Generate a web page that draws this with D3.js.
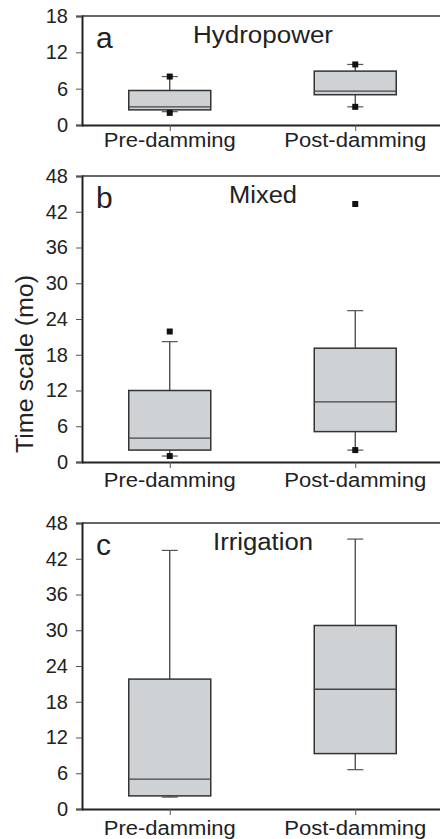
<!DOCTYPE html>
<html lang="en">
<head>
<meta charset="UTF-8">
<title>Time scale pre/post damming</title>
<script src="https://d3js.org/d3.v7.min.js"></script>
<style>
  body { margin: 0; background: #fff; }
  svg text { font-family: "Liberation Sans", Arial, Helvetica, sans-serif; fill: #222; }
</style>
</head>
<body>
<svg id="chart" width="440" height="839"></svg>
<script>
// categories + panels
const categories = ["Pre-damming", "Post-damming"];
const panelLetters = ["a", "b", "c"];
const panelTitles = ["Hydropower", "Mixed", "Irrigation"];
const yMax = [18, 48, 48];
const yTicks = [[0, 6, 12, 18], [0, 6, 12, 18, 24, 30, 36, 42, 48], [0, 6, 12, 18, 24, 30, 36, 42, 48]];

// box stats per panel: [pre, post] -> [whiskerLow, q1, median, q3, whiskerHigh]
const hydroBoxes = [[2.2, 2.5, 3.0, 5.7, 8.0], [3.0, 5.0, 5.6, 8.9, 10.0]];
const mixedBoxes = [[1.0, 2.0, 4.0, 12.0, 20.2], [2.0, 5.1, 10.1, 19.1, 25.4]];
const irrigBoxes = [[2.0, 2.2, 5.0, 21.8, 43.4], [6.6, 9.3, 20.1, 30.8, 45.3]];
// points (5th/95th pct and outliers) per category
const hydroPoints = [[2.0, 8.0], [3.0, 10.0]];
const mixedPoints = [[1.0, 21.9], [2.0, 43.3]];
const irrigPoints = [[], []];

const boxes = [hydroBoxes, mixedBoxes, irrigBoxes];
const points = [hydroPoints, mixedPoints, irrigPoints];

const svg = d3.select("#chart");
const left = 82, right = 446;
const panelTop = [16, 176, 523];
const panelBottom = [125, 462, 809];
const labelGap = [22, 25, 26];

const x = d3.scalePoint().domain(categories).range([77, 448]).padding(0.5);
const boxW = 82, capW = 16, sq = 6;

panelLetters.forEach(function(letter, p) {
  const y = d3.scaleLinear().domain([0, yMax[p]]).range([panelBottom[p], panelTop[p]]);
  const g = svg.append("g");

  // frame: top line + left/bottom axes
  g.append("line").attr("x1", left).attr("x2", right)
    .attr("y1", y(yMax[p])).attr("y2", y(yMax[p]))
    .attr("stroke", "#333").attr("stroke-width", 1.6);

  const yAxis = g.append("g").attr("transform", "translate(" + left + ",0)")
    .call(d3.axisLeft(y).tickValues(yTicks[p]).tickSize(6).tickPadding(8));
  yAxis.select(".domain").attr("stroke", "#222").attr("stroke-width", 2);
  yAxis.selectAll(".tick line").attr("stroke", "#555").attr("stroke-width", 1);
  yAxis.selectAll(".tick text").style("font-size", "20px").attr("fill", "#222");

  const xAxis = g.append("g").attr("transform", "translate(0," + panelBottom[p] + ")")
    .call(d3.axisBottom(x).tickSize(6).tickSizeOuter(0));
  xAxis.select(".domain").attr("d", "M" + left + ",0.5H" + right)
    .attr("stroke", "#222").attr("stroke-width", 2);
  xAxis.selectAll(".tick line").attr("stroke", "#555");
  xAxis.selectAll(".tick text").remove();

  // category labels
  g.selectAll("text.cat").data(categories).enter().append("text")
    .attr("class", "cat")
    .attr("x", function(d) { return x(d); })
    .attr("y", panelBottom[p] + labelGap[p])
    .attr("text-anchor", "middle")
    .attr("textLength", function(d, i) { return i === 0 ? 132 : 142; })
    .attr("lengthAdjust", "spacingAndGlyphs")
    .style("font-size", "20px")
    .text(function(d) { return d; });

  // boxes
  const b = g.selectAll("g.box").data(boxes[p]).enter().append("g").attr("class", "box");
  b.append("line")
    .attr("x1", function(d, i) { return x(categories[i]); })
    .attr("x2", function(d, i) { return x(categories[i]); })
    .attr("y1", function(d) { return y(d[0]); })
    .attr("y2", function(d) { return y(d[4]); })
    .attr("stroke", "#333").attr("stroke-width", 1.2);
  b.append("line")
    .attr("x1", function(d, i) { return x(categories[i]) - capW / 2; })
    .attr("x2", function(d, i) { return x(categories[i]) + capW / 2; })
    .attr("y1", function(d) { return y(d[0]); })
    .attr("y2", function(d) { return y(d[0]); })
    .attr("stroke", "#555").attr("stroke-width", 1.2);
  b.append("line")
    .attr("x1", function(d, i) { return x(categories[i]) - capW / 2; })
    .attr("x2", function(d, i) { return x(categories[i]) + capW / 2; })
    .attr("y1", function(d) { return y(d[4]); })
    .attr("y2", function(d) { return y(d[4]); })
    .attr("stroke", "#555").attr("stroke-width", 1.2);
  b.append("rect")
    .attr("x", function(d, i) { return x(categories[i]) - boxW / 2; })
    .attr("y", function(d) { return y(d[3]); })
    .attr("width", boxW)
    .attr("height", function(d) { return y(d[1]) - y(d[3]); })
    .attr("fill", "#cfd2d5").attr("stroke", "#333").attr("stroke-width", 1.5);
  b.append("line")
    .attr("x1", function(d, i) { return x(categories[i]) - boxW / 2; })
    .attr("x2", function(d, i) { return x(categories[i]) + boxW / 2; })
    .attr("y1", function(d) { return y(d[2]); })
    .attr("y2", function(d) { return y(d[2]); })
    .attr("stroke", "#444").attr("stroke-width", 1.3);

  // points
  points[p].forEach(function(vals, i) {
    g.selectAll(null).data(vals).enter().append("rect")
      .attr("x", x(categories[i]) - sq / 2)
      .attr("y", function(d) { return y(d) - sq / 2; })
      .attr("width", sq).attr("height", sq)
      .attr("fill", "#111");
  });

  // panel letter and title
  g.append("text").attr("x", 96).attr("y", panelTop[p] + 32)
    .style("font-size", "30px").text(letter);
  g.append("text").attr("x", 263).attr("y", panelTop[p] + 27)
    .attr("text-anchor", "middle")
    .attr("textLength", [140, 68, 100][p])
    .attr("lengthAdjust", "spacingAndGlyphs")
    .style("font-size", "23px").text(panelTitles[p]);
});

// y axis title
svg.append("text")
  .attr("transform", "translate(33,364) rotate(-90)")
  .attr("text-anchor", "middle")
  .attr("textLength", 178)
  .attr("lengthAdjust", "spacingAndGlyphs")
  .style("font-size", "23px")
  .text("Time scale (mo)");
</script>
</body>
</html>
